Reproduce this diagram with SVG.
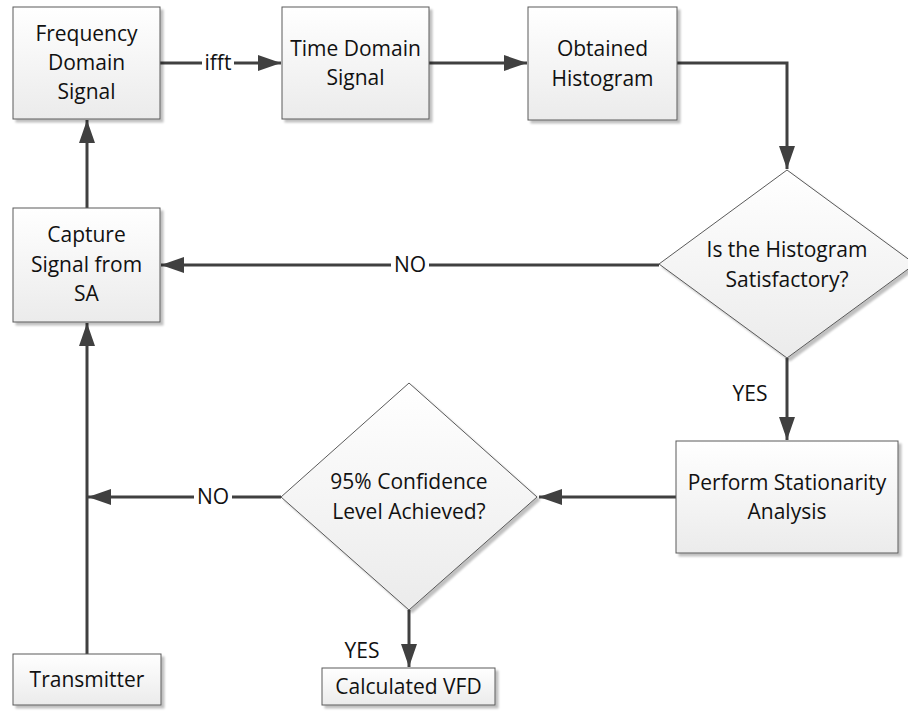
<svg xmlns="http://www.w3.org/2000/svg" width="908" height="711" viewBox="0 0 908 711">
  <defs>
    <linearGradient id="fillGrad" x1="0" y1="0" x2="0" y2="1">
      <stop offset="0" stop-color="#ffffff"/>
      <stop offset="1" stop-color="#ebebeb"/>
    </linearGradient>
    <filter id="shadow" x="-10%" y="-10%" width="130%" height="130%">
      <feGaussianBlur in="SourceAlpha" stdDeviation="1.2"/>
      <feOffset dx="3" dy="3" result="off"/>
      <feComponentTransfer><feFuncA type="linear" slope="0.25"/></feComponentTransfer>
      <feMerge><feMergeNode/><feMergeNode in="SourceGraphic"/></feMerge>
    </filter>
    <marker id="arrow" markerUnits="userSpaceOnUse" markerWidth="24" markerHeight="18" refX="23" refY="8" orient="auto">
      <path d="M0,0 L23,8 L0,16 Z" fill="#404040"/>
    </marker>
  </defs>
  <style>
    .shape { fill: url(#fillGrad); stroke: #5a5a5a; stroke-width: 1; filter: url(#shadow); }
    .txt { font-family: "Open Sans", "Liberation Sans", sans-serif; font-size: 21px; fill: #111; text-anchor: middle; }
    .conn { fill: none; stroke: #404040; stroke-width: 3; }
    .lbl-bg { fill: #ffffff; }
  </style>

  <rect width="908" height="711" fill="#ffffff"/>

  <!-- connectors -->
  <g id="connectors">
    <path class="conn" d="M160,63 L281,63" marker-end="url(#arrow)"/>
    <path class="conn" d="M429,63 L527,63" marker-end="url(#arrow)"/>
    <path class="conn" d="M677,63 L787,63 L787,169" marker-end="url(#arrow)"/>
    <path class="conn" d="M659,265 L161,265" marker-end="url(#arrow)"/>
    <path class="conn" d="M87,208 L87,120" marker-end="url(#arrow)"/>
    <path class="conn" d="M87,654 L87,323" marker-end="url(#arrow)"/>
    <path class="conn" d="M787,358 L787,440" marker-end="url(#arrow)"/>
    <path class="conn" d="M676,497 L539,497" marker-end="url(#arrow)"/>
    <path class="conn" d="M281,497 L88,497" marker-end="url(#arrow)"/>
    <path class="conn" d="M409,610 L409,667" marker-end="url(#arrow)"/>
    <!-- connector labels -->
    <rect class="lbl-bg" x="202" y="51" width="32" height="24"/>
    <text class="txt" x="218" y="70">ifft</text>
    <rect class="lbl-bg" x="391" y="253" width="38" height="24"/>
    <text class="txt" x="410" y="272">NO</text>
    <text class="txt" x="750" y="401">YES</text>
    <rect class="lbl-bg" x="194" y="485" width="38" height="24"/>
    <text class="txt" x="213" y="504">NO</text>
    <text class="txt" x="362" y="658">YES</text>
  </g>

  <g id="freq-domain">
    <rect class="shape" x="13" y="7" width="147" height="112"/>
    <text class="txt" x="86.5" y="41">Frequency</text>
    <text class="txt" x="86.5" y="70">Domain</text>
    <text class="txt" x="86.5" y="99">Signal</text>
  </g>

  <g id="time-domain">
    <rect class="shape" x="282" y="7" width="147" height="112"/>
    <text class="txt" x="355.5" y="56">Time Domain</text>
    <text class="txt" x="355.5" y="85">Signal</text>
  </g>

  <g id="histogram">
    <rect class="shape" x="528" y="7" width="149" height="113"/>
    <text class="txt" x="602.5" y="56">Obtained</text>
    <text class="txt" x="602.5" y="86">Histogram</text>
  </g>

  <g id="histogram-check">
    <polygon class="shape" points="787,170 915,264 787,358 659,264"/>
    <text class="txt" x="787" y="257">Is the Histogram</text>
    <text class="txt" x="787" y="287">Satisfactory?</text>
  </g>

  <g id="capture">
    <rect class="shape" x="13" y="208" width="147" height="114"/>
    <text class="txt" x="86.5" y="242">Capture</text>
    <text class="txt" x="86.5" y="272">Signal from</text>
    <text class="txt" x="86.5" y="301">SA</text>
  </g>

  <g id="stationarity">
    <rect class="shape" x="676" y="441" width="222" height="112"/>
    <text class="txt" x="787" y="490">Perform Stationarity</text>
    <text class="txt" x="787" y="519">Analysis</text>
  </g>

  <g id="confidence-check">
    <polygon class="shape" points="409,383 537,497 409,610 281,497"/>
    <text class="txt" x="409" y="489">95% Confidence</text>
    <text class="txt" x="409" y="519">Level Achieved?</text>
  </g>

  <g id="transmitter">
    <rect class="shape" x="13" y="654" width="148" height="51"/>
    <text class="txt" x="87" y="687">Transmitter</text>
  </g>

  <g id="vfd">
    <rect class="shape" x="322" y="668" width="173" height="37"/>
    <text class="txt" x="408.5" y="694">Calculated VFD</text>
  </g>
</svg>
